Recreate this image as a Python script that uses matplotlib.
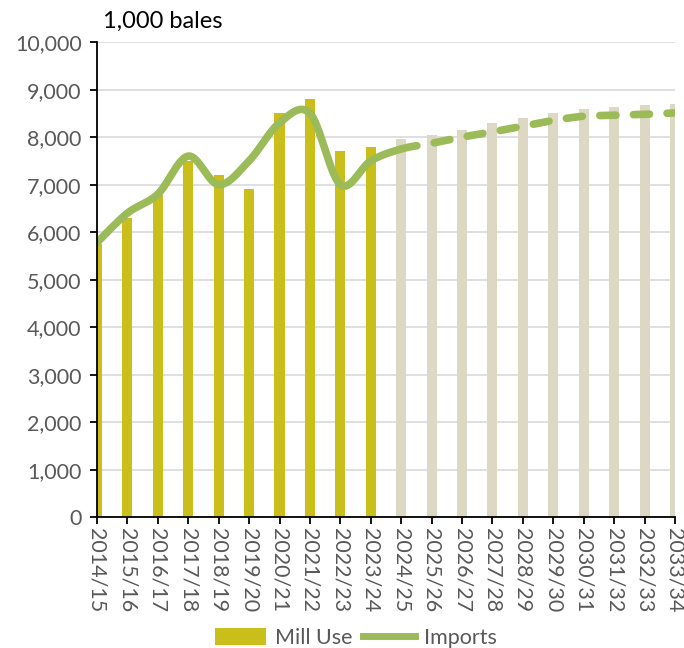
import numpy as np
import matplotlib
matplotlib.use("Agg")
import matplotlib.pyplot as plt
from matplotlib.patches import Patch
from matplotlib.lines import Line2D

plt.rcParams['font.family'] = ['Lato', 'DejaVu Sans']

categories = ["2014/15", "2015/16", "2016/17", "2017/18", "2018/19", "2019/20",
              "2020/21", "2021/22", "2022/23", "2023/24", "2024/25", "2025/26",
              "2026/27", "2027/28", "2028/29", "2029/30", "2030/31", "2031/32",
              "2032/33", "2033/34"]
mill_use = [5750, 6300, 6780, 7500, 7200, 6900, 8500, 8800, 7700, 7800,
            7950, 8050, 8150, 8300, 8400, 8500, 8600, 8630, 8670, 8700]
imports = [5780, 6400, 6800, 7600, 7000, 7500, 8300, 8500, 7000, 7500,
           7750, 7870, 8000, 8110, 8230, 8350, 8440, 8460, 8480, 8510]
n_actual = 10  # 2014/15 .. 2023/24 are historical

GOLD = "#C9BE1A"
BEIGE = "#DDD8C3"
GREEN = "#9BBB59"
GRAY = "#595959"


def smooth(xs, ys, per=30):
    xs = np.asarray(xs, float)
    ys = np.asarray(ys, float)
    px = np.concatenate([[xs[0]], xs, [xs[-1]]])
    py = np.concatenate([[ys[0]], ys, [ys[-1]]])
    ox, oy = [], []
    t = np.linspace(0, 1, per)
    for i in range(1, len(px) - 2):
        p0 = np.array([px[i - 1], py[i - 1]])
        p1 = np.array([px[i], py[i]])
        p2 = np.array([px[i + 1], py[i + 1]])
        p3 = np.array([px[i + 2], py[i + 2]])
        c1 = p1 + (p2 - p0) / 6
        c2 = p2 - (p3 - p1) / 6
        b = ((1 - t) ** 3)[:, None] * p1 + (3 * (1 - t) ** 2 * t)[:, None] * c1 \
            + (3 * (1 - t) * t ** 2)[:, None] * c2 + (t ** 3)[:, None] * p2
        ox.append(b[:, 0]); oy.append(b[:, 1])
    return np.concatenate(ox), np.concatenate(oy), per


fig = plt.figure(figsize=(6.84, 6.48), dpi=100)
ax = fig.add_axes([0.1418, 0.202, 0.845, 0.733])

x = np.arange(len(categories))
colors = [GOLD if i < n_actual else BEIGE for i in range(len(categories))]
ax.bar(x, mill_use, width=0.33, color=colors, zorder=2)

sx, sy, per = smooth(x, imports)
split = n_actual * per  # segment index where 2024/25 starts
ax.plot(sx[:split], sy[:split], color=GREEN, lw=5.5, solid_capstyle='round', zorder=3)
ax.plot(sx[split - 1:], sy[split - 1:], color=GREEN, lw=5.5, dashes=(2.1, 2.3),
        dash_capstyle='round', zorder=3)

ax.set_xlim(0, len(categories) - 1)
ax.set_ylim(0, 10000)
ax.set_yticks(np.arange(0, 10001, 1000))
ax.set_yticklabels([f"{v:,}" for v in range(0, 10001, 1000)])
ax.set_xticks(x)
ax.set_xticklabels(categories, rotation=-90)
ax.grid(axis='y', color="#D9D9D9", lw=1.2, zorder=0)
ax.set_axisbelow(True)
for s in ['top', 'right']:
    ax.spines[s].set_visible(False)
for s in ['left', 'bottom']:
    ax.spines[s].set_color('black')
    ax.spines[s].set_linewidth(1.3)
    ax.spines[s].set_zorder(4)
ax.tick_params(axis='both', colors='black', labelcolor=GRAY, labelsize=15.5,
               length=5, width=1.3, direction='out')
ax.tick_params(axis='y', pad=6)
ax.tick_params(axis='x', pad=3)

fig.text(0.150, 0.967, "1,000 bales", fontsize=17, color='black', ha='left', va='center')

handles = [Patch(facecolor=GOLD, edgecolor='none'),
           Line2D([0], [0], color=GREEN, lw=5)]
fig.legend(handles, ["Mill Use", "Imports"], loc='lower center',
           bbox_to_anchor=(0.52, -0.03), ncol=2, frameon=False, fontsize=15.5,
           labelcolor=GRAY, handlelength=2.4, handleheight=0.8, columnspacing=0.5,
           handletextpad=0.4)

fig.savefig("out.png", dpi=100)
